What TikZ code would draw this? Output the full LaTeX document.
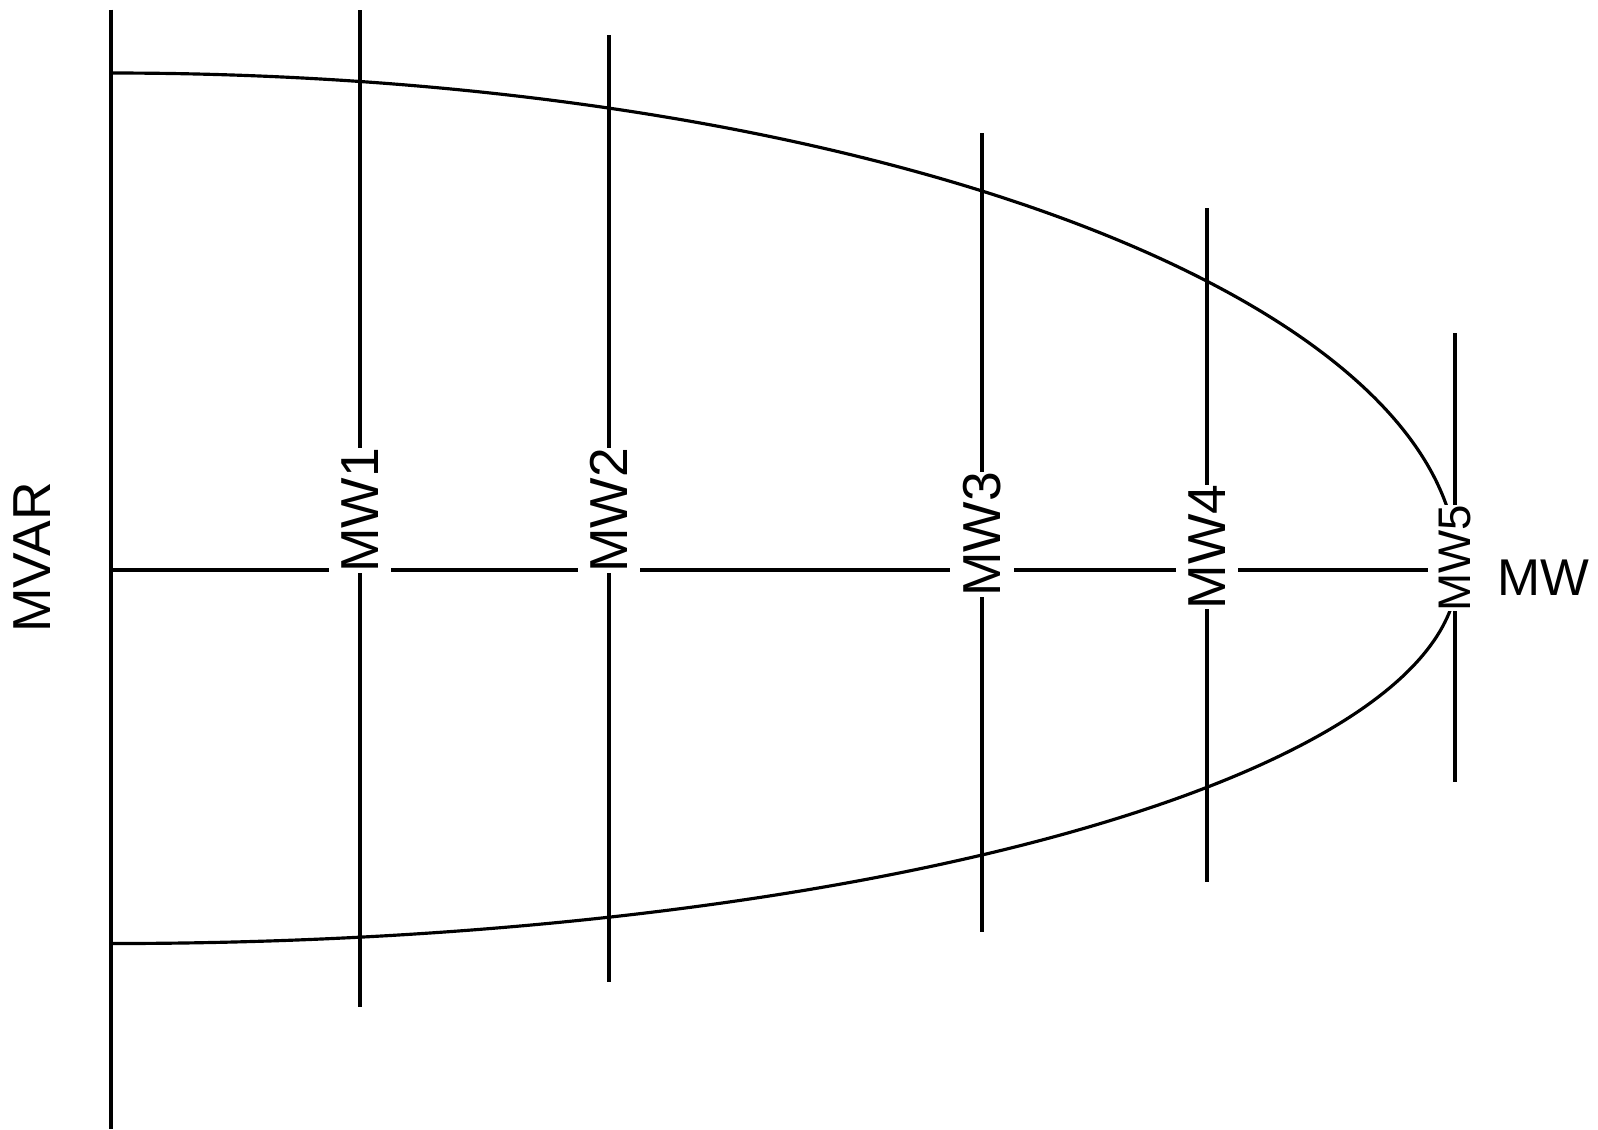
\documentclass[tikz,border=0pt]{standalone}
\usepackage{fontspec}
\setmainfont{Liberation Sans}
\begin{document}
\begin{tikzpicture}[x=0.01cm,y=-0.01cm,
  ln/.style={line width=0.9pt},
  lab/.style={rotate=90, fill=white, inner xsep=0pt, inner ysep=3.6pt, font=\fontsize{15.2}{18}\selectfont},
  labs/.style={lab, inner ysep=3.1pt, font=\fontsize{13}{15}\selectfont},
  axlab/.style={inner sep=0pt, font=\fontsize{15.2}{18}\selectfont}]
\useasboundingbox (0,0) rectangle (1598,1129);
% coordinates
\coordinate (O) at (111,570);
\coordinate (Ytop) at (111,9.5);
\coordinate (Ybot) at (111,1129);
\coordinate (Xend) at (1455,570);
\coordinate (Ctop) at (111,73);
\coordinate (t1) at (360,10);   \coordinate (b1) at (360,1007);
\coordinate (t2) at (609,35);   \coordinate (b2) at (609,982);
\coordinate (t3) at (982,133);  \coordinate (b3) at (982,932);
\coordinate (t4) at (1207,208); \coordinate (b4) at (1207,882);
\coordinate (t5) at (1455,333); \coordinate (b5) at (1455,782);
% axes
\draw[ln] (Ytop) -- (Ybot);
\draw[ln] (O) -- (Xend);
% capability curve
\draw[ln] (Ctop) arc[start angle=90,end angle=0,x radius=13.46cm,y radius=4.97cm]
                 arc[start angle=0,end angle=-90,x radius=13.46cm,y radius=3.73cm];
% vertical lines
\draw[ln] (t1) -- (b1);
\draw[ln] (t2) -- (b2);
\draw[ln] (t3) -- (b3);
\draw[ln] (t4) -- (b4);
\draw[ln] (t5) -- (b5);
% labels
\node[lab] (mw1) at (360,510.5) {MW1};
\node[lab] (mw2) at (609,510.5) {MW2};
\node[lab] (mw3) at (982,534.5) {MW3};
\node[lab] (mw4) at (1207,547) {MW4};
\node[labs] (mw5) at (1455,558) {MW5};
\node[axlab, rotate=90] (mvar) at (32.5,557.5) {MVAR};
\node[axlab, font=\fontsize{14.7}{17}\selectfont] (mw) at (1543,577.5) {MW};
\end{tikzpicture}
\end{document}
